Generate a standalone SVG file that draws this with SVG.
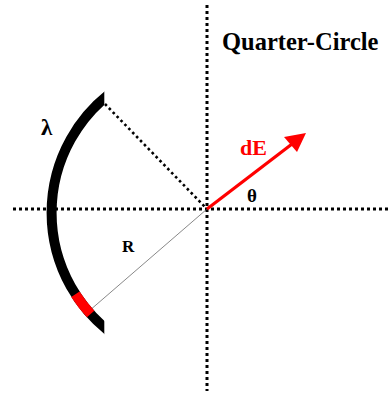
<svg xmlns="http://www.w3.org/2000/svg" width="391" height="393" viewBox="0 0 391 393">
<style>
.axis{stroke:#000;stroke-width:3;stroke-dasharray:3 3;fill:none}
</style>
<defs>
<clipPath id="cut"><rect x="0" y="0" width="104.3" height="393"/></clipPath>
</defs>
<rect width="391" height="393" fill="#fff"/>
<g id="connectors">
<line class="axis" x1="13" y1="209" x2="389" y2="209"/>
<line class="axis" x1="207" y1="5" x2="207" y2="391"/>
<line x1="105" y1="104" x2="206" y2="208" stroke="#000" stroke-width="2.6" stroke-dasharray="2.6 3"/>
<line x1="207" y1="209" x2="89" y2="311" stroke="#555" stroke-width="0.7"/>
<g id="dE">
<line x1="207" y1="209" x2="292" y2="144" stroke="#f00" stroke-width="3.2"/>
<polygon points="306,133 284,137 297,152" fill="#f00"/>
</g>
</g>
<g id="arc" clip-path="url(#cut)">
<path d="M116,89.1 A151,151 0 0 0 116,336.5" fill="none" stroke="#000" stroke-width="10"/>
<path d="M90.6,314 A151,151 0 0 1 75.4,294.2" fill="none" stroke="#f00" stroke-width="10"/>
</g>
<g id="labels" font-family="'Liberation Serif', 'DejaVu Serif', serif" font-weight="bold">
<text x="222" y="50" font-size="24.5">Quarter-Circle</text>
<text x="240" y="155" font-size="22" fill="#f00">dE</text>
<text x="247" y="202" font-size="19">θ</text>
<text x="41" y="135" font-size="23">λ</text>
<text x="122" y="252" font-size="17">R</text>
</g>
</svg>
